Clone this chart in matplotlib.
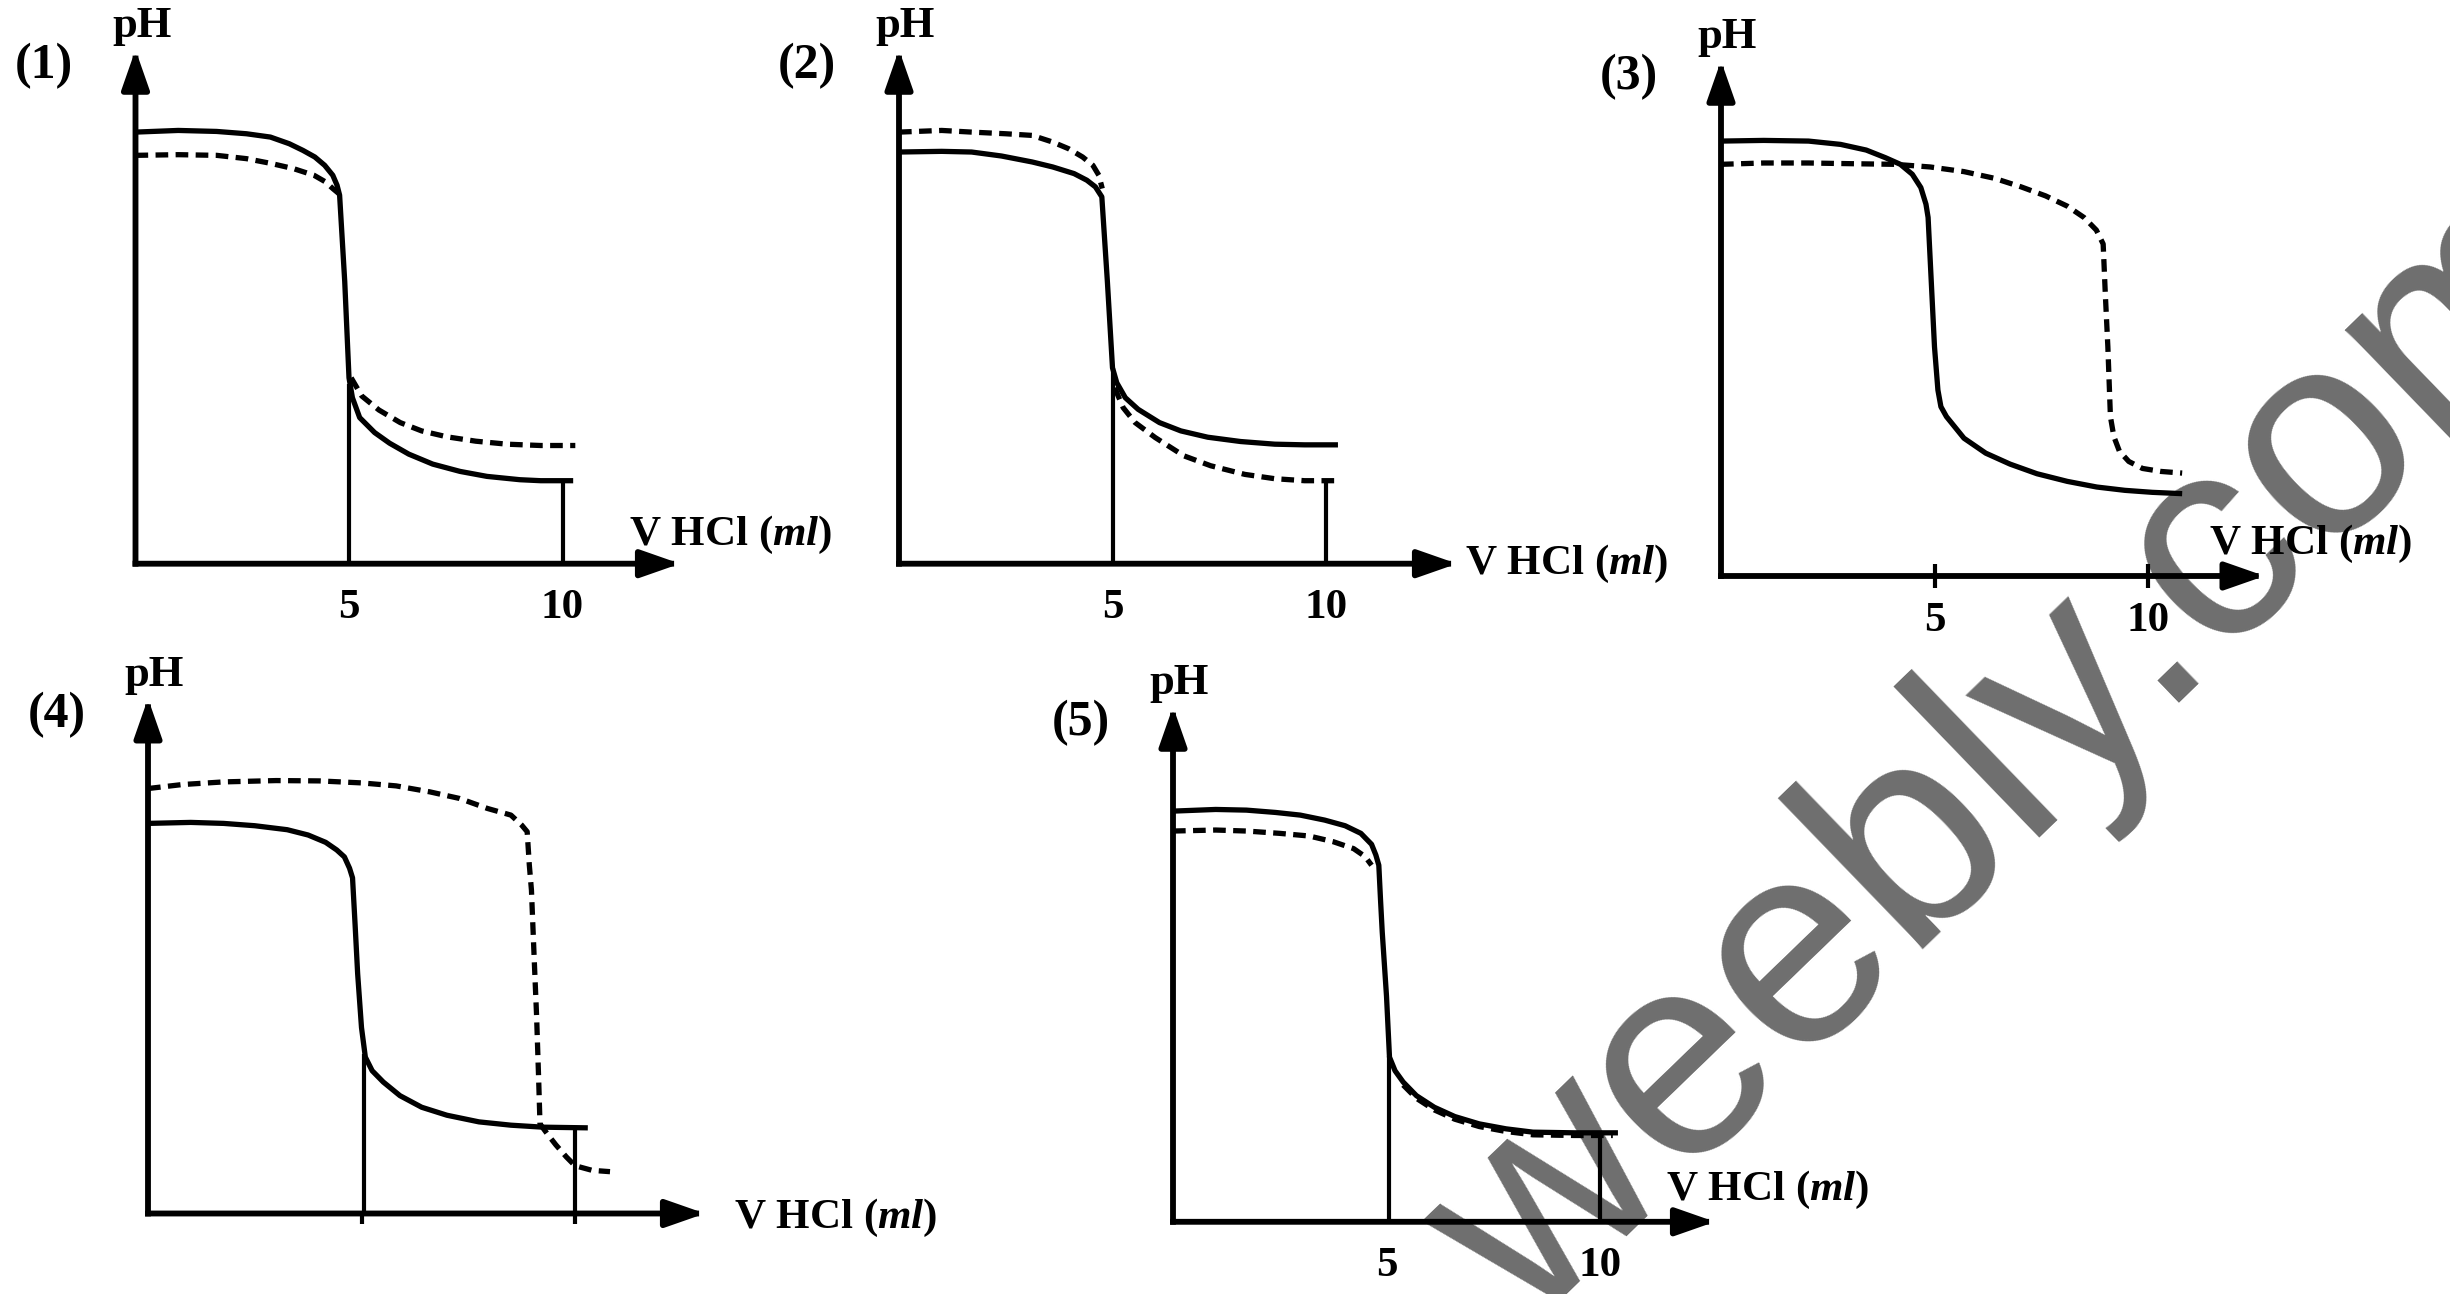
import matplotlib.pyplot as plt
import numpy as np

plt.rcParams['font.family'] = 'Liberation Serif'
plt.rcParams['mathtext.fontset'] = 'custom'
plt.rcParams['mathtext.rm'] = 'Liberation Serif:bold'
plt.rcParams['mathtext.it'] = 'Liberation Serif:italic:bold'

# ---- data: (V HCl in ml, pH) ----
P1_SOLID = [(0, 13.0), (1.0, 13.05), (1.9, 13.02), (2.6, 12.95), (3.16, 12.85), (3.6, 12.65),
            (3.92, 12.45), (4.2, 12.25), (4.43, 12.0), (4.62, 11.7), (4.72, 11.4), (4.78, 11.1),
            (4.9, 8.5), (5.0, 5.6), (5.08, 5.0), (5.25, 4.4), (5.6, 3.95), (5.95, 3.63), (6.4, 3.3),
            (6.96, 3.0), (7.6, 2.78), (8.23, 2.63), (9.0, 2.53), (9.49, 2.5), (10.25, 2.5)]
P1_DASH_A = [(0, 12.3), (1.0, 12.32), (1.9, 12.3), (2.6, 12.2), (3.16, 12.06), (3.7, 11.9),
             (4.18, 11.7), (4.45, 11.5), (4.62, 11.3), (4.76, 11.15)]
P1_DASH_B = [(5.05, 5.6), (5.3, 5.05), (5.7, 4.63), (6.2, 4.25), (6.7, 4.0), (7.3, 3.82),
             (7.97, 3.69), (8.7, 3.6), (9.49, 3.56), (10.3, 3.56)]
P1_DROPS = [(5, 5.4), (10, 2.5)]

P2_SOLID = [(0, 12.4), (1.0, 12.42), (1.7, 12.4), (2.4, 12.28), (3.12, 12.1), (3.6, 11.95),
            (4.1, 11.75), (4.4, 11.55), (4.6, 11.35), (4.75, 11.05), (4.88, 8.5), (5.0, 5.9),
            (5.1, 5.45), (5.3, 5.0), (5.6, 4.65), (6.1, 4.25), (6.6, 4.0), (7.23, 3.81),
            (8.0, 3.68), (8.8, 3.6), (9.5, 3.58), (10.28, 3.58)]
P2_DASH_A = [(0, 13.0), (1.0, 13.05), (1.7, 13.0), (2.5, 12.95), (3.12, 12.9), (3.6, 12.7),
             (3.97, 12.5), (4.3, 12.25), (4.54, 12.0), (4.68, 11.7), (4.76, 11.3)]
P2_DASH_B = [(5.05, 5.3), (5.25, 4.7), (5.53, 4.25), (6.0, 3.8), (6.67, 3.25), (7.3, 2.95),
             (8.1, 2.69), (8.8, 2.56), (9.5, 2.5), (10.35, 2.5)]
P2_DROPS = [(5, 5.9), (10, 2.5)]

P3_SOLID = [(0, 13.1), (1.0, 13.12), (2.05, 13.1), (2.8, 13.0), (3.4, 12.83), (3.85, 12.6),
            (4.2, 12.4), (4.48, 12.1), (4.68, 11.7), (4.8, 11.2), (4.85, 10.8), (4.9, 9.5),
            (4.95, 8.2), (5.0, 6.9), (5.08, 5.6), (5.15, 5.1), (5.28, 4.8), (5.69, 4.15),
            (6.2, 3.7), (6.77, 3.37), (7.4, 3.08), (8.11, 2.85), (8.8, 2.68), (9.46, 2.58),
            (10.1, 2.52), (10.8, 2.48)]
P3_DASH = [(0, 12.4), (1.0, 12.44), (2.05, 12.44), (3.0, 12.42), (4.07, 12.4), (4.9, 12.32),
           (5.69, 12.18), (6.4, 11.98), (7.03, 11.72), (7.6, 11.45), (8.11, 11.14), (8.5, 10.8),
           (8.79, 10.42), (8.95, 10.0), (9.0, 8.5), (9.06, 6.9), (9.1, 5.5), (9.12, 4.8),
           (9.2, 4.2), (9.33, 3.76), (9.55, 3.45), (9.87, 3.24), (10.3, 3.15), (10.8, 3.1)]

P4_SOLID = [(0, 11.75), (1.0, 11.78), (1.77, 11.75), (2.5, 11.68), (3.26, 11.56), (3.75, 11.4),
            (4.16, 11.18), (4.42, 10.95), (4.6, 10.74), (4.72, 10.4), (4.79, 10.11), (4.85, 8.7),
            (4.91, 7.22), (5.0, 5.6), (5.09, 4.71), (5.25, 4.3), (5.51, 3.96), (5.9, 3.55),
            (6.41, 3.2), (7.0, 2.96), (7.75, 2.76), (8.5, 2.66), (9.25, 2.6), (10.3, 2.58)]
P4_DASH = [(0, 12.8), (0.8, 12.92), (1.77, 13.0), (3.0, 13.04), (4.01, 13.03), (5.0, 12.97),
           (5.81, 12.88), (6.6, 12.7), (7.3, 12.5), (7.95, 12.2), (8.5, 12.0), (8.75, 11.7),
           (8.88, 11.5), (8.93, 10.5), (8.98, 9.74), (9.05, 7.5), (9.1, 5.97), (9.15, 4.0),
           (9.18, 2.7), (9.35, 2.4), (9.55, 2.07), (9.8, 1.7), (10.0, 1.44), (10.4, 1.3),
           (10.82, 1.26)]
P4_DROPS = [(5.05, 4.8), (10, 2.58)]

P5_SOLID = [(0, 12.37), (1.0, 12.42), (1.72, 12.4), (2.4, 12.33), (2.98, 12.25), (3.55, 12.1),
            (4.03, 11.93), (4.4, 11.7), (4.65, 11.37), (4.75, 11.05), (4.82, 10.74), (4.86, 9.7),
            (4.9, 8.73), (5.0, 6.8), (5.07, 4.96), (5.2, 4.55), (5.39, 4.21), (5.7, 3.8),
            (6.12, 3.45), (6.6, 3.17), (7.17, 2.95), (7.8, 2.8), (8.43, 2.7), (9.4, 2.68),
            (10.42, 2.68)]
P5_DASH_A = [(0, 11.77), (1.0, 11.8), (1.72, 11.77), (2.5, 11.7), (3.19, 11.62), (3.75, 11.45),
             (4.23, 11.24), (4.5, 11.0), (4.65, 10.74)]
P5_DASH_B = [(5.39, 4.12), (5.7, 3.72), (6.12, 3.37), (6.6, 3.09), (7.17, 2.87), (7.8, 2.72),
             (8.43, 2.62), (9.4, 2.6), (10.3, 2.6)]
P5_DROPS = [(5.05, 5.0), (10, 2.68)]

TICKS = [5, 10]
TICK_LABELS = ['5', '10']
PANEL_NAMES = ['(1)', '(2)', '(3)', '(4)', '(5)']
XLABEL = r'V HCl ($ml$)'
YLABEL = 'pH'
WATERMARK = 'o.weebly.com'

# ---- layout (pixels of the 2450x1294 canvas) ----
W, H = 2450, 1294
PX_PER_ML = 42.7
PX_PER_PH = 33.2
LW_CURVE = 3.8
LW_AXIS = 4.2
DASH = (0, (2.4, 1.4))


def make_panel(fig, origin, xtip, ytip):
    ox, oy = origin
    ax = fig.add_axes([ox / W, 1 - oy / H, (xtip - ox) / W, (oy - ytip) / H])
    ax.set_xlim(0, (xtip - ox) / PX_PER_ML)
    ax.set_ylim(0, (oy - ytip) / PX_PER_PH)
    ax.set_facecolor('none')
    for s in ax.spines.values():
        s.set_visible(False)
    ax.set_yticks([])
    xmax, ymax = ax.get_xlim()[1], ax.get_ylim()[1]
    arrow = dict(arrowstyle='-|>,head_length=1.2,head_width=0.42', lw=LW_AXIS, color='k',
                 shrinkA=0, shrinkB=0, mutation_scale=20, capstyle='projecting')
    ax.annotate('', xy=(xmax, 0), xytext=(0, 0), arrowprops=arrow, annotation_clip=False)
    ax.annotate('', xy=(0, ymax), xytext=(0, 0), arrowprops=arrow, annotation_clip=False)
    return ax


def draw(ax, pts, dashed=False, lw=LW_CURVE):
    x = [p[0] for p in pts]
    y = [p[1] for p in pts]
    if dashed:
        ax.plot(x, y, color='k', lw=lw, linestyle=DASH, solid_joinstyle='round',
                dash_capstyle='butt', clip_on=False)
    else:
        ax.plot(x, y, color='k', lw=lw, solid_joinstyle='round', solid_capstyle='butt',
                clip_on=False)


def decorate(ax, name, xlabel_off, tick_mode):
    xmax, ymax = ax.get_xlim()[1], ax.get_ylim()[1]
    ax.annotate(YLABEL, xy=(0, ymax), xytext=(4.5, 17), textcoords='offset points',
                ha='center', va='center', fontsize=32, fontweight='bold')
    ax.annotate(name, xy=(0, ymax), xytext=(-66, -12), textcoords='offset points',
                ha='center', va='center', fontsize=36, fontweight='bold')
    ax.annotate(XLABEL, xy=(xmax, 0), xytext=xlabel_off, textcoords='offset points',
                ha='left', va='center', fontsize=31, fontweight='bold')
    if tick_mode == 'none':
        ax.set_xticks(TICKS, ['', ''])
        ax.tick_params(axis='x', length=7, width=3, direction='out')
    elif tick_mode == 'cross':
        ax.set_xticks(TICKS, TICK_LABELS)
        ax.tick_params(axis='x', length=17, width=3, direction='inout', pad=10)
    else:
        ax.set_xticks(TICKS, TICK_LABELS)
        ax.tick_params(axis='x', length=0, pad=18)
    for t in ax.get_xticklabels():
        t.set_fontsize(31)
        t.set_fontweight('bold')


def drops(ax, pts):
    for x, top in pts:
        ax.vlines(x, 0, top, color='k', lw=3.0)


fig = plt.figure(figsize=(W / 100, H / 100), dpi=100)
fig.patch.set_facecolor('white')

fig.text(1353 / W, 1 - 1489 / H, WATERMARK, rotation=44, rotation_mode='anchor',
         ha='left', va='baseline', fontsize=208, color='#6e6e6e',
         family='Liberation Sans', zorder=-1)

ax1 = make_panel(fig, (135.5, 563.7), 680, 49.7)
draw(ax1, P1_SOLID)
draw(ax1, P1_DASH_A, dashed=True)
draw(ax1, P1_DASH_B, dashed=True)
drops(ax1, P1_DROPS)
decorate(ax1, PANEL_NAMES[0], (-37, 21), 'label')

ax2 = make_panel(fig, (899, 563.7), 1457, 49.7)
draw(ax2, P2_SOLID)
draw(ax2, P2_DASH_A, dashed=True)
draw(ax2, P2_DASH_B, dashed=True)
drops(ax2, P2_DROPS)
decorate(ax2, PANEL_NAMES[1], (6, 0), 'label')

ax3 = make_panel(fig, (1721, 576), 2264.6, 60.7)
draw(ax3, P3_SOLID)
draw(ax3, P3_DASH, dashed=True)
decorate(ax3, PANEL_NAMES[2], (-40, 23), 'cross')

ax4 = make_panel(fig, (148, 1213.5), 705, 698.4)
draw(ax4, P4_SOLID)
draw(ax4, P4_DASH, dashed=True)
drops(ax4, P4_DROPS)
decorate(ax4, PANEL_NAMES[3], (21, -3), 'none')

ax5 = make_panel(fig, (1173, 1221.8), 1715, 706.7)
draw(ax5, P5_SOLID)
draw(ax5, P5_DASH_A, dashed=True)
draw(ax5, P5_DASH_B, dashed=True)
drops(ax5, P5_DROPS)
decorate(ax5, PANEL_NAMES[4], (-35, 23), 'label')

fig.savefig('out.png', dpi=100, facecolor='white')
